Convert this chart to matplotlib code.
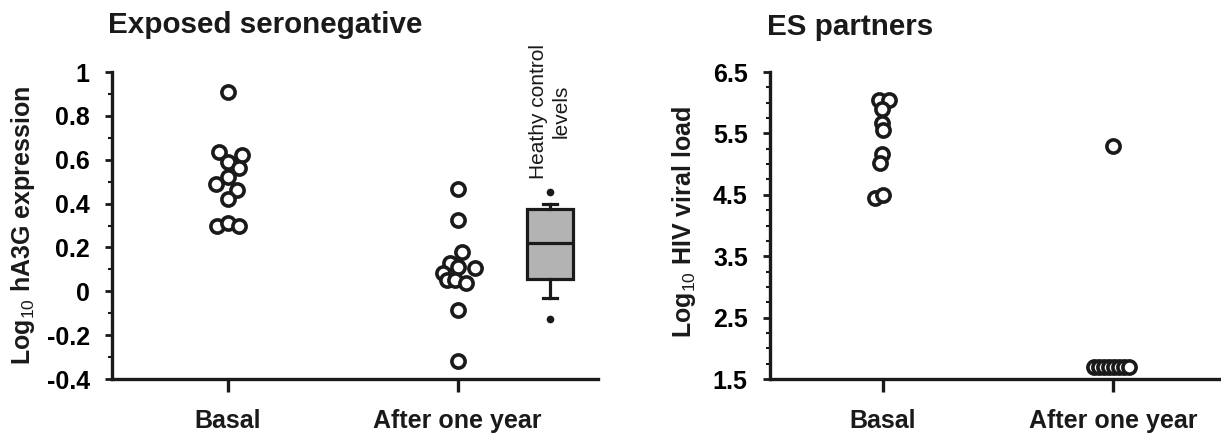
import numpy as np
import matplotlib.pyplot as plt
from matplotlib.ticker import MultipleLocator

plt.rcParams['font.family'] = ['Liberation Sans', 'DejaVu Sans']
plt.rcParams['mathtext.fontset'] = 'custom'
plt.rcParams['mathtext.rm'] = 'Liberation Sans'
plt.rcParams['mathtext.bf'] = 'Liberation Sans:bold'

ink = '#1a1a1a'
groups = ["Basal", "After one year"]

# Exposed seronegative: log10 hA3G expression
es_basal = [0.91, 0.636, 0.62, 0.59, 0.56, 0.52, 0.49, 0.46, 0.42, 0.30, 0.31, 0.30]
es_basal_dx = [0, -0.04, 0.06, 0, 0.05, 0, -0.05, 0.04, 0, -0.045, 0, 0.05]
es_year = [0.466, 0.325, 0.178, 0.128, 0.105, 0.082, 0.11, 0.05, 0.05, 0.037, -0.087, -0.32]
es_year_dx = [0, 0, 0.017, -0.035, 0.074, -0.065, 0, -0.048, -0.013, 0.035, 0, 0]

# healthy control box
ctrl_q1, ctrl_med, ctrl_q3 = 0.055, 0.22, 0.375
ctrl_lo, ctrl_hi = -0.032, 0.398
ctrl_out = [0.453, -0.128]

# ES partners: log10 HIV viral load
pt_basal = [6.04, 6.04, 5.9, 5.67, 5.55, 5.17, 5.01, 4.44, 4.49]
pt_basal_dx = [-0.017, 0.026, -0.004, -0.004, 0, -0.004, -0.013, -0.035, 0]
pt_year = [5.3, 1.7, 1.7, 1.7, 1.7, 1.7, 1.7, 1.7, 1.7]
pt_year_dx = [0, -0.083, -0.061, -0.039, -0.017, 0.005, 0.027, 0.049, 0.07]

fig = plt.figure(figsize=(12.21, 4.33), dpi=100)
ax1 = fig.add_axes([0.0917, 0.1247, 0.398, 0.709])
ax2 = fig.add_axes([0.6306, 0.1247, 0.3694, 0.709])

mk = dict(marker='o', linestyle='none', mfc='white', mec=ink, ms=9.5, mew=2.6, zorder=3)

def style(ax):
    for s in ['top', 'right']:
        ax.spines[s].set_visible(False)
    for s in ['left', 'bottom']:
        ax.spines[s].set_linewidth(2.4)
        ax.spines[s].set_color(ink)
    ax.set_xticks([1, 2])
    ax.set_xticklabels(groups, fontsize=18, fontweight='bold', color=ink)
    ax.tick_params(axis='x', length=9, width=2.4, pad=12.5, color=ink)
    ax.tick_params(axis='y', which='major', length=5, width=2, pad=11, color=ink,
                   labelsize=18)
    ax.tick_params(axis='y', which='minor', length=3, width=1.5, color=ink)
    for t in ax.get_yticklabels():
        t.set_fontweight('bold')

# left panel
ax1.plot(1 + np.array(es_basal_dx), es_basal, **mk)
ax1.plot(2 + np.array(es_year_dx), es_year, **mk)
stats = [dict(q1=ctrl_q1, med=ctrl_med, q3=ctrl_q3, whislo=ctrl_lo, whishi=ctrl_hi, fliers=ctrl_out)]
ax1.bxp(stats, positions=[2.4], widths=0.2, capwidths=0.06, patch_artist=True, showfliers=True,
        boxprops=dict(facecolor='#b3b3b3', edgecolor=ink, linewidth=2.3),
        medianprops=dict(color=ink, linewidth=2.3),
        whiskerprops=dict(color=ink, linewidth=2.3),
        capprops=dict(color=ink, linewidth=2.3),
        flierprops=dict(marker='o', mfc=ink, mec=ink, ms=4.5))
ax1.text(2.4, 0.82, "Heathy control\nlevels", rotation=90, ha='center', va='center',
         multialignment='center', fontsize=15, color=ink)
ax1.set_xlim(0.496, 2.61)
ax1.set_ylim(-0.4, 1)
ax1.set_yticks(np.arange(-0.4, 1.01, 0.2))
ax1.set_yticklabels(['-0.4', '-0.2', '0', '0.2', '0.4', '0.6', '0.8', '1'])
ax1.yaxis.set_minor_locator(MultipleLocator(0.1))
style(ax1)
ax1.set_ylabel("Log$_{10}$ hA3G expression", fontsize=18, fontweight='bold', color=ink)
ax1.yaxis.set_label_coords(-0.155, 0.5)

# right panel
ax2.plot(1 + np.array(pt_basal_dx), pt_basal, **mk)
ax2.plot(2 + np.array(pt_year_dx), pt_year, **mk)
ax2.set_xlim(0.51, 2.47)
ax2.set_ylim(1.5, 6.5)
ax2.set_yticks(np.arange(1.5, 6.6, 1.0))
ax2.set_yticklabels(['1.5', '2.5', '3.5', '4.5', '5.5', '6.5'])
ax2.yaxis.set_minor_locator(MultipleLocator(0.25))
style(ax2)
ax2.set_ylabel("Log$_{10}$ HIV viral load", fontsize=18, fontweight='bold', color=ink)
ax2.yaxis.set_label_coords(-0.16, 0.51)

fig.text(108 / 1221, 1 - 33 / 433, "Exposed seronegative", fontsize=21.3, fontweight='bold',
         color=ink, va='baseline')
fig.text(767 / 1221, 1 - 35 / 433, "ES partners", fontsize=21.3, fontweight='bold',
         color=ink, va='baseline')

fig.savefig("out.png", dpi=100)
